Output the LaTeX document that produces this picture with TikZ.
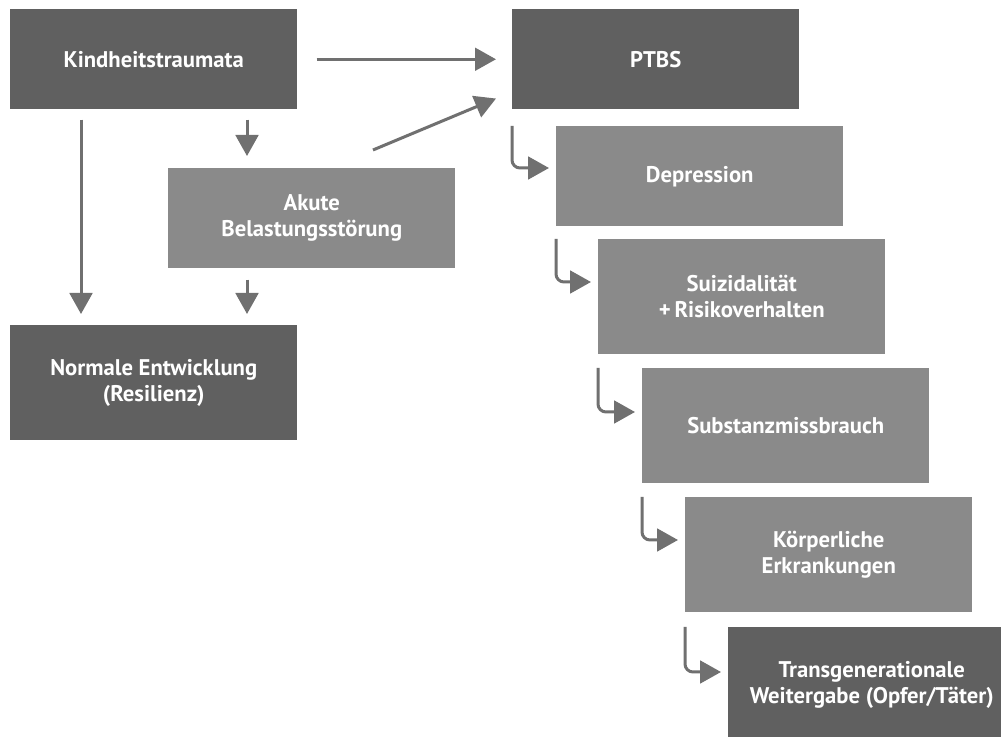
\documentclass[tikz,border=0pt]{standalone}
\usepackage{fontspec}
\setmainfont{PT Sans}
\usetikzlibrary{arrows.meta,calc}
\definecolor{darkbox}{RGB}{96,96,96}
\definecolor{midbox}{RGB}{138,138,138}
\definecolor{arrowgray}{RGB}{112,112,112}
\tikzset{
  box/.style={rectangle, inner sep=0pt, anchor=north west, text=white, align=center,
    font=\bfseries\fontsize{17}{19.5}\selectfont, minimum width=215.25pt},
  boxdark/.style={box, fill=darkbox},
  boxmid/.style={box, fill=midbox},
  short/.style={minimum height=75pt},
  tall/.style={minimum height=86.25pt},
  arr/.style={draw=arrowgray, line width=2.25pt, -{Triangle[length=15.75pt,width=17pt]}},
  elbow/.style={arr, rounded corners=6pt}
}
\begin{document}
\begin{tikzpicture}[x=0.75pt,y=-0.75pt]
\path[use as bounding box] (0,0) rectangle (1001,737);
\clip (0,0) rectangle (1001,737);
\fill[white] (0,0) rectangle (1001,737);

\node[boxdark, short] (K) at (10,9) {Kindheitstraumata};
\node[boxdark, short] (P) at (512,9) {PTBS};
\node[boxmid, short] (A) at (168,168) {Akute\\Belastungsstörung};
\node[boxdark, tall] (N) at (10,325) {Normale Entwicklung\\(Resilienz)};
\node[boxmid, short] (D) at (556,126) {Depression};
\node[boxmid, tall] (S) at (598,239) {Suizidalität\\+\,Risikoverhalten};
\node[boxmid, tall] (Sub) at (642,368) {Substanzmissbrauch};
\node[boxmid, tall] (Kp) at (685,497) {Körperliche\\Erkrankungen};
\node[boxdark, tall] (T) at (728,627) {Transgenerationale\\Weitergabe (Opfer/Täter)};

\draw[arr, shorten <=14.25pt, shorten >=12pt] (K) -- (P);
\draw[arr] ($(A.north west)+(205,-18)$) -- ($(P.south west)+(-16,-11)$);
\draw[arr] ($(K.south west)+(237,10)$) -- ($(A.north west)+(79,-12)$);
\draw[arr] ($(K.south west)+(71,10)$) -- ($(N.north west)+(71,-11)$);
\draw[arr] ($(A.south west)+(79,11)$) -- ($(N.north west)+(237,-11)$);

\draw[elbow] (P.west |- D.north) |- ($(D.north west)+(-7,42)$);
\draw[elbow] (D.west |- S.north) |- ($(S.north west)+(-7,43)$);
\draw[elbow] (S.west |- Sub.north) |- ($(Sub.north west)+(-7,44)$);
\draw[elbow] (Sub.west |- Kp.north) |- ($(Kp.north west)+(-7,43)$);
\draw[elbow] (Kp.west |- T.north) |- ($(T.north west)+(-7,45)$);
\end{tikzpicture}
\end{document}
